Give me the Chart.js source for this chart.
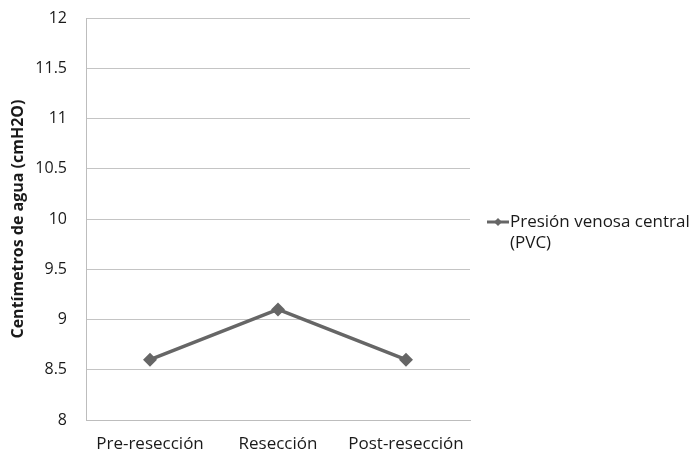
<!DOCTYPE html>
<html>
<head>
<meta charset="utf-8">
<script src="https://cdn.jsdelivr.net/npm/chart.js@4/dist/chart.umd.min.js"></script>
<style>
  html, body { margin: 0; padding: 0; background: #fff; }
  #wrap { width: 693px; height: 460px; }
</style>
</head>
<body>
<div id="wrap"><canvas id="c" width="693" height="460"></canvas></div>
<script>
// Central venous pressure across the three surgical phases
const categories = ['Pre-resección', 'Resección', 'Post-resección'];
const pvcValues = [8.6, 9.1, 8.6];
const legendLines = ['Presión venosa central', '(PVC)'];
const yTitle = 'Centímetros de agua (cmH2O)';

const FONT = '"Open Sans", "Liberation Sans", sans-serif';
const LINE_COLOR = '#666666';
const TEXT_COLOR = '#1a1a1a';

// Legend drawn beside the plot, with the label wrapped on two lines
const sideLegend = {
  id: 'sideLegend',
  afterDraw(chart) {
    const ctx = chart.ctx;
    const area = chart.chartArea;
    const x0 = area.right + 17;
    const y0 = (area.top + area.bottom) / 2 + 3;
    ctx.save();
    ctx.strokeStyle = LINE_COLOR;
    ctx.lineWidth = 3;
    ctx.beginPath();
    ctx.moveTo(x0, y0);
    ctx.lineTo(x0 + 22, y0);
    ctx.stroke();
    ctx.fillStyle = LINE_COLOR;
    const cx = x0 + 11, r = 4;
    ctx.beginPath();
    ctx.moveTo(cx, y0 - r);
    ctx.lineTo(cx + r, y0);
    ctx.lineTo(cx, y0 + r);
    ctx.lineTo(cx - r, y0);
    ctx.closePath();
    ctx.fill();
    ctx.fillStyle = TEXT_COLOR;
    ctx.font = '17px ' + FONT;
    ctx.textBaseline = 'middle';
    ctx.textAlign = 'left';
    legendLines.forEach((t, i) => ctx.fillText(t, x0 + 23, y0 + i * 21));
    ctx.restore();
  }
};

new Chart(document.getElementById('c'), {
  type: 'line',
  data: {
    labels: categories,
    datasets: [{
      label: legendLines.join(' '),
      data: pvcValues,
      borderColor: LINE_COLOR,
      backgroundColor: LINE_COLOR,
      borderWidth: 3.5,
      pointStyle: 'rectRot',
      pointRadius: 4.5,
      pointHoverRadius: 4.5,
      tension: 0
    }]
  },
  options: {
    responsive: false,
    animation: false,
    layout: { padding: { top: 18, right: 223, bottom: 0, left: 0 } },
    plugins: {
      legend: { display: false },
      tooltip: { enabled: false }
    },
    scales: {
      x: {
        offset: true,
        grid: { display: false, drawTicks: false },
        border: { color: '#bdbdbd', width: 1 },
        ticks: { color: TEXT_COLOR, font: { family: FONT, size: 17 }, padding: 14 },
        afterFit: (scale) => { scale.height = 40; }
      },
      y: {
        min: 8,
        max: 12,
        ticks: {
          stepSize: 0.5,
          color: TEXT_COLOR,
          font: { family: FONT, size: 16 },
          padding: 19,
          callback: (v) => String(Math.round(v * 10) / 10)
        },
        grid: { color: '#c4c4c4', drawTicks: false },
        border: { color: '#bdbdbd', width: 1 },
        title: {
          display: true,
          text: yTitle,
          color: TEXT_COLOR,
          font: { family: FONT, size: 16, weight: 'bold' },
          padding: { top: 9, bottom: 0 }
        },
        afterFit: (scale) => {
          scale.width = 86;
          scale.paddingTop = 0;
          scale.paddingBottom = 0;
        }
      }
    }
  },
  plugins: [sideLegend]
});
</script>
</body>
</html>
